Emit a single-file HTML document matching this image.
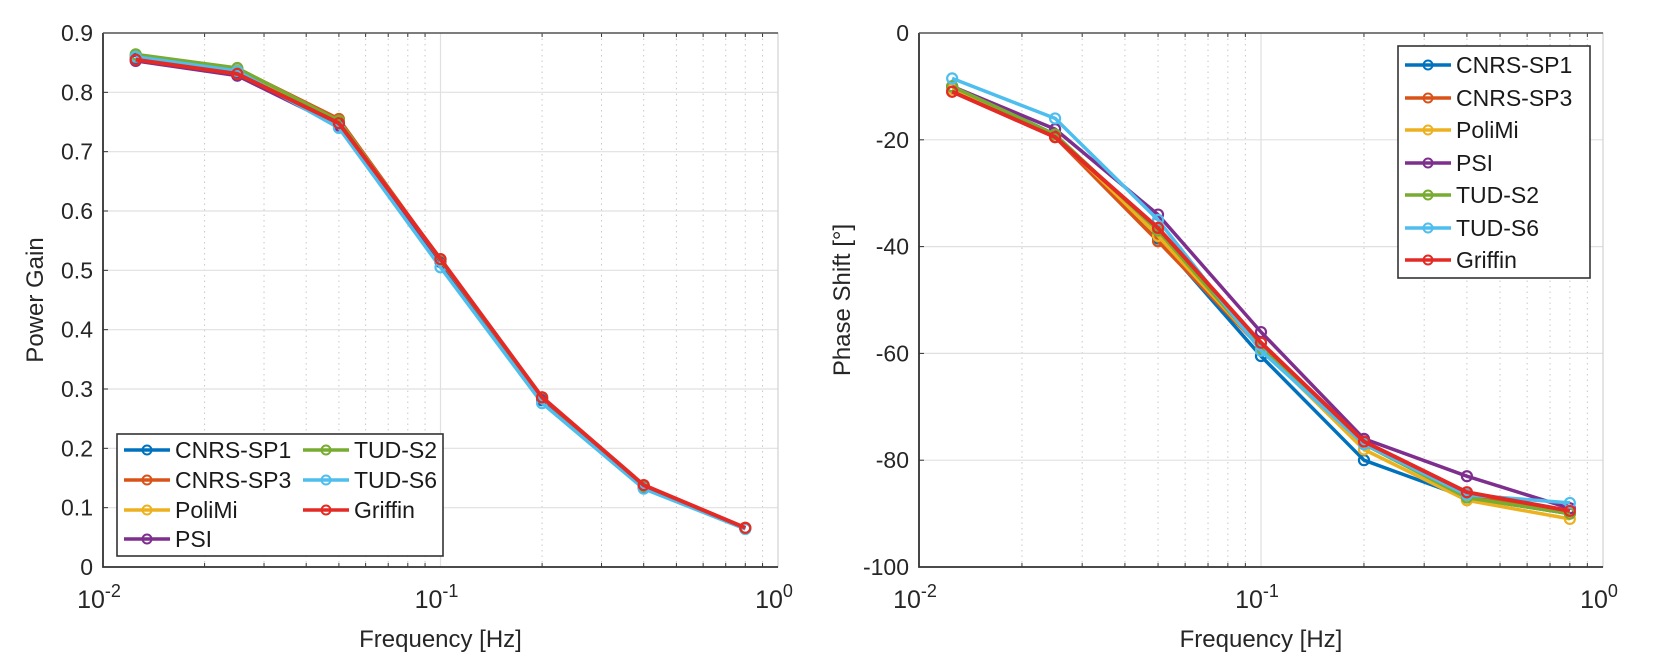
<!DOCTYPE html>
<html><head><meta charset="utf-8"><style>
html,body{margin:0;padding:0;background:#fff;}
svg{display:block;font-family:"Liberation Sans",Arial,sans-serif;}
</style></head><body>
<svg id="fig" width="1670" height="670" viewBox="0 0 1670 670" xmlns="http://www.w3.org/2000/svg"></svg>
<script>
const freqs = [0.0125, 0.025, 0.05, 0.1, 0.2, 0.4, 0.8];
const seriesNames = ["CNRS-SP1","CNRS-SP3","PoliMi","PSI","TUD-S2","TUD-S6","Griffin"];
const seriesColors = ["#0072BD","#D95319","#EDB120","#7E2F8E","#77AC30","#4DBEEE","#E32A24"];
const gainSP1 = [0.858,0.834,0.746,0.514,0.281,0.134,0.065];
const gainSP3 = [0.860,0.840,0.755,0.518,0.286,0.137,0.066];
const gainPoliMi = [0.862,0.838,0.752,0.516,0.284,0.136,0.066];
const gainPSI = [0.853,0.828,0.744,0.515,0.283,0.135,0.065];
const gainTUDS2 = [0.864,0.841,0.752,0.517,0.285,0.136,0.066];
const gainTUDS6 = [0.860,0.836,0.740,0.505,0.276,0.132,0.064];
const gainGriffin = [0.855,0.831,0.748,0.519,0.286,0.138,0.066];
const phaseSP1 = [-10,-19,-38.5,-60.5,-80,-87,-90];
const phaseSP3 = [-11,-19.5,-39,-59,-77,-86.5,-90];
const phasePoliMi = [-10.5,-19,-38,-59,-78,-87.5,-91];
const phasePSI = [-10,-18,-34,-56,-76,-83,-89];
const phaseTUDS2 = [-10,-19,-37,-59,-77,-87,-90];
const phaseTUDS6 = [-8.5,-16,-35,-59.5,-77,-86.5,-88];
const phaseGriffin = [-11,-19.5,-36.5,-58,-76.5,-86,-89.5];
const gainTicks = [0,0.1,0.2,0.3,0.4,0.5,0.6,0.7,0.8,0.9];
const phaseTicks = [-100,-80,-60,-40,-20,0];
const xTickExps = [-2,-1,0];

const NS="http://www.w3.org/2000/svg";
const svg=document.getElementById('fig');
function mk(tag,attrs,parent){const e=document.createElementNS(NS,tag);for(const k in attrs)e.setAttribute(k,attrs[k]);(parent||svg).appendChild(e);return e;}

function drawPanel(cfg){
  const g=mk('g',{});
  
  
  const L=cfg.L,R=cfg.R,T=cfg.T,B=cfg.B;
  const xs=f=>L+(Math.log10(f)+2)/2*(R-L);
  const ys=v=>B-(v-cfg.ymin)/(cfg.ymax-cfg.ymin)*(B-T);
  for(let d=-2;d<0;d++)for(let m=2;m<=9;m++){
    const x=xs(m*Math.pow(10,d));
    const l=mk('line',{x1:x,x2:x,y1:T,y2:B,stroke:'#c8c8c8','stroke-width':1,'stroke-dasharray':'1.5,4'},g);
    
    
    mk('line',{x1:x,x2:x,y1:B,y2:B-4,stroke:'#333','stroke-width':1},g);
    mk('line',{x1:x,x2:x,y1:T,y2:T+4,stroke:'#333','stroke-width':1},g);
  }
  xTickExps.forEach(e=>{
    const x=xs(Math.pow(10,e));
    const l=mk('line',{x1:x,x2:x,y1:T,y2:B,stroke:'#e0e0e0','stroke-width':1.2},g);
    
    
    const t=mk('text',{x:x-4,y:B+41,'font-size':25,fill:'#262626','text-anchor':'middle'},g);
    
    
    t.textContent='10';
    const s=mk('tspan',{dy:-11,'font-size':18},t);s.textContent=String(e);
  });
  cfg.ticks.forEach(v=>{
    const y=ys(v);
    const l=mk('line',{x1:L,x2:R,y1:y,y2:y,stroke:'#e0e0e0','stroke-width':1.2},g);
    
    
    mk('line',{x1:L,x2:L+5,y1:y,y2:y,stroke:'#333','stroke-width':1},g);
    const t=mk('text',{x:L-10,y:y+8,'font-size':23,fill:'#262626','text-anchor':'end'},g);
    
    
    t.textContent=String(v);
  });
  const box=mk('rect',{x:L,y:T,width:R-L,height:B-T,fill:'none',stroke:'#cfcfcf','stroke-width':1},g);
  
  
  const ax=mk('path',{d:`M${L},${T} V${B} H${R}`,fill:'none',stroke:'#333','stroke-width':1.8},g);
  
  
  mk('line',{x1:L,x2:R,y1:T,y2:T,stroke:'#555','stroke-width':1.4},g);
  cfg.data.forEach((vals,i)=>{
    const sg=mk('g',{},g);
    
    
    const pts=vals.map((v,j)=>xs(freqs[j]).toFixed(1)+','+ys(v).toFixed(1)).join(' ');
    const w=i===6?4:3.5;
    const pl=mk('polyline',{points:pts,fill:'none',stroke:seriesColors[i],'stroke-width':w,'stroke-linejoin':'round'},sg);
    
    
    vals.forEach((v,j)=>{
      const c=mk('circle',{cx:xs(freqs[j]),cy:ys(v),r:5,fill:'none',stroke:seriesColors[i],'stroke-width':2.2},sg);
      
      
    });
  });
  const xl=mk('text',{x:(L+R)/2,y:647,'font-size':24,fill:'#262626','text-anchor':'middle'},g);
  
  
  xl.textContent='Frequency [Hz]';
  const yl=mk('text',{x:0,y:0,'font-size':24,fill:'#262626','text-anchor':'middle',transform:`translate(${cfg.ylx},${(T+B)/2}) rotate(-90)`},g);
  
  
  yl.textContent=cfg.ylabel;
  const lg=mk('g',{},g);
  
  
  mk('rect',{x:cfg.leg.x,y:cfg.leg.y,width:cfg.leg.w,height:cfg.leg.h,fill:'#fff',stroke:'#333','stroke-width':1.6},lg);
  cfg.leg.items.forEach((it,i)=>{
    const e=mk('g',{},lg);
    
    
    mk('line',{x1:it[0],x2:it[0]+46,y1:it[1],y2:it[1],stroke:seriesColors[i],'stroke-width':3.5},e);
    mk('circle',{cx:it[0]+23,cy:it[1],r:4.5,fill:'none',stroke:seriesColors[i],'stroke-width':2},e);
    const t=mk('text',{x:it[0]+51,y:it[1]+8,'font-size':23,fill:'#1a1a1a'},e);
    t.textContent=seriesNames[i];
  });
}

drawPanel({name:'power-gain-chart',L:103,R:778,T:33,B:567,ymin:0,ymax:0.9,ticks:gainTicks,
  data:[gainSP1,gainSP3,gainPoliMi,gainPSI,gainTUDS2,gainTUDS6,gainGriffin],
  ylabel:'Power Gain',ylx:43,
  leg:{x:117,y:434,w:326,h:122,items:[[124,450],[124,480],[124,510],[124,539],[303,450],[303,480],[303,510]]}});
drawPanel({name:'phase-shift-chart',L:919,R:1603,T:33,B:567,ymin:-100,ymax:0,ticks:phaseTicks,
  data:[phaseSP1,phaseSP3,phasePoliMi,phasePSI,phaseTUDS2,phaseTUDS6,phaseGriffin],
  ylabel:'Phase Shift [°]',ylx:850,
  leg:{x:1398,y:46,w:192,h:232,items:[[1405,65],[1405,98],[1405,130],[1405,163],[1405,195],[1405,228],[1405,260]]}});
</script>
</body></html>
